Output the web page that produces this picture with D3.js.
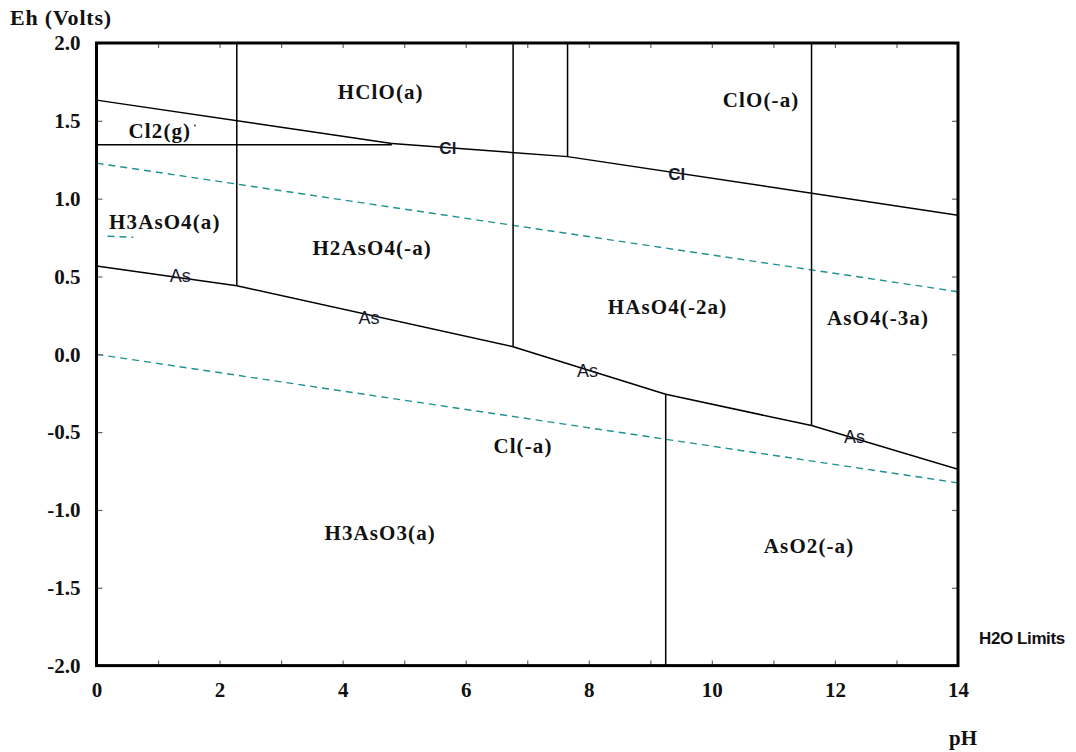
<!DOCTYPE html>
<html><head><meta charset="utf-8">
<script src="https://cdn.jsdelivr.net/npm/d3@7"></script>
<style>body{margin:0;background:#fff}</style></head>
<body><svg id="c" width="1076" height="752"></svg>
<script>
// ---- data ----
const xTickValues = d3.range(0, 15, 1);
const xTickLabels = [0, 2, 4, 6, 8, 10, 12, 14];
const yTickValues = [-2.0, -1.5, -1.0, -0.5, 0.0, 0.5, 1.0, 1.5, 2.0];

// Chlorine boundaries [pH, Eh]
const clBoundaries = [
  [[0, 1.347], [4.8, 1.347]],      // Cl2(g) / Cl-
  [[0, 1.633], [4.8, 1.355]],      // HClO / Cl2(g)
  [[4.8, 1.355], [7.655, 1.27]],   // HClO / Cl-
  [[7.655, 1.27], [14, 0.894]],    // ClO- / Cl-
  [[7.655, 1.27], [7.655, 2.0]]    // HClO / ClO-
];
// Arsenic boundaries [pH, Eh]
const asBoundaries = [
  [[0, 0.567], [2.28, 0.44]],
  [[2.28, 0.44], [6.77, 0.049]],
  [[6.77, 0.049], [9.25, -0.257]],
  [[9.25, -0.257], [11.62, -0.458]],
  [[11.62, -0.458], [14, -0.739]],
  [[2.28, 0.44], [2.28, 2.0]],
  [[6.77, 0.049], [6.77, 2.0]],
  [[11.62, -0.458], [11.62, 2.0]],
  [[9.25, -0.257], [9.25, -2.0]]
];
// Water stability limits
const waterUpper = [[0, 1.228], [14, 0.402]];
const waterLower = [[0, 0.0], [14, -0.826]];
const waterFragment = [[0.18, 0.758], [0.6, 0.752]];

const regionNames = ["HClO(a)", "ClO(-a)", "Cl2(g)", "H3AsO4(a)", "H2AsO4(-a)", "HAsO4(-2a)", "AsO4(-3a)", "Cl(-a)", "H3AsO3(a)", "AsO2(-a)"];
const regionPH =    [4.62, 10.80, 1.03, 1.11, 4.48, 9.28, 12.70, 6.93, 4.61, 11.58];
const regionEh =    [1.685, 1.633, 1.434, 0.85, 0.683, 0.304, 0.233, -0.589, -1.148, -1.231];

const lineLabelText = ["Cl", "Cl", "As", "As", "As", "As"];
const lineLabelPH =   [5.71, 9.43, 1.36, 4.43, 7.98, 12.32];
const lineLabelEh =   [1.325, 1.158, 0.503, 0.233, -0.107, -0.531];

// ---- drawing ----
const svg = d3.select("#c");
const L = 96.5, R = 958, T = 43, B = 665.6;
const x = d3.scaleLinear().domain([0, 14]).range([L, R]);
const y = d3.scaleLinear().domain([-2, 2]).range([B, T]);
const serif = "'Liberation Serif','Times New Roman',serif";
const sans = "'Liberation Sans',Arial,sans-serif";

svg.append("defs").append("clipPath").attr("id", "plot")
  .append("rect").attr("x", L).attr("y", T).attr("width", R - L).attr("height", B - T);

const line = d3.line().x(d => x(d[0])).y(d => y(d[1]));
const g = svg.append("g").attr("clip-path", "url(#plot)");

// water lines
[waterUpper, waterLower, waterFragment].forEach(d => {
  g.append("path").attr("d", line(d)).attr("fill", "none")
    .attr("stroke", "#1f9190").attr("stroke-width", 1.4)
    .attr("stroke-dasharray", "7,5");
});

// boundaries
clBoundaries.concat(asBoundaries).forEach(d => {
  g.append("path").attr("d", line(d)).attr("fill", "none")
    .attr("stroke", "#000").attr("stroke-width", 1.5);
});

// axes (inward ticks)
const fmtY = d => d.toFixed(1);
const axB = svg.append("g").attr("transform", `translate(0,${B})`)
  .call(d3.axisBottom(x).tickValues(xTickValues).tickSize(-5).tickPadding(16)
    .tickFormat(d => xTickLabels.includes(d) ? d : ""));
const axT = svg.append("g").attr("transform", `translate(0,${T})`)
  .call(d3.axisTop(x).tickValues(xTickValues).tickSize(-5).tickFormat(""));
const axL = svg.append("g").attr("transform", `translate(${L},0)`)
  .call(d3.axisLeft(y).tickValues(yTickValues).tickSize(-6).tickPadding(16)
    .tickFormat(fmtY));
const axR = svg.append("g").attr("transform", `translate(${R},0)`)
  .call(d3.axisRight(y).tickValues(yTickValues).tickSize(-6).tickFormat(""));
[axB, axT, axL, axR].forEach(a => {
  a.select(".domain").remove();
  a.selectAll(".tick line").attr("stroke", "#666").attr("stroke-width", 1.2);
  a.selectAll("text").attr("font-family", serif).attr("font-weight", "bold")
    .attr("font-size", 21).attr("fill", "#111");
});

// frame
svg.append("rect").attr("x", L).attr("y", T).attr("width", R - L).attr("height", B - T)
  .attr("fill", "none").attr("stroke", "#000").attr("stroke-width", 3);

// region labels
regionNames.forEach((t, i) => {
  svg.append("text").attr("x", x(regionPH[i])).attr("y", y(regionEh[i]))
    .attr("text-anchor", "middle").attr("dominant-baseline", "central")
    .attr("font-family", serif).attr("font-weight", "bold").attr("font-size", 21)
    .attr("letter-spacing", 1.1).attr("fill", "#111").text(t);
});
// small dot after Cl2(g)
svg.append("circle").attr("cx", x(1.6)).attr("cy", y(1.47)).attr("r", 0.9).attr("fill", "#333");

// line labels
lineLabelText.forEach((t, i) => {
  svg.append("text").attr("x", x(lineLabelPH[i])).attr("y", y(lineLabelEh[i]))
    .attr("text-anchor", "middle").attr("dominant-baseline", "central")
    .attr("font-family", sans).attr("font-size", t === "Cl" ? 17 : 18)
    .attr("font-weight", t === "Cl" ? "bold" : "normal")
    .attr("fill", "#1a1a2e").text(t);
});

// axis titles
svg.append("text").attr("x", 10).attr("y", 25).attr("font-family", serif)
  .attr("font-weight", "bold").attr("font-size", 22).attr("letter-spacing", 0.8)
  .attr("fill", "#111").text("Eh (Volts)");
svg.append("text").attr("x", 949).attr("y", 745).attr("font-family", serif)
  .attr("font-weight", "bold").attr("font-size", 21).attr("fill", "#111").text("pH");
svg.append("text").attr("x", 979).attr("y", 644).attr("font-family", sans)
  .attr("font-weight", "bold").attr("font-size", 17).attr("letter-spacing", -0.4)
  .attr("fill", "#111").text("H2O Limits");
</script>
</body></html>
